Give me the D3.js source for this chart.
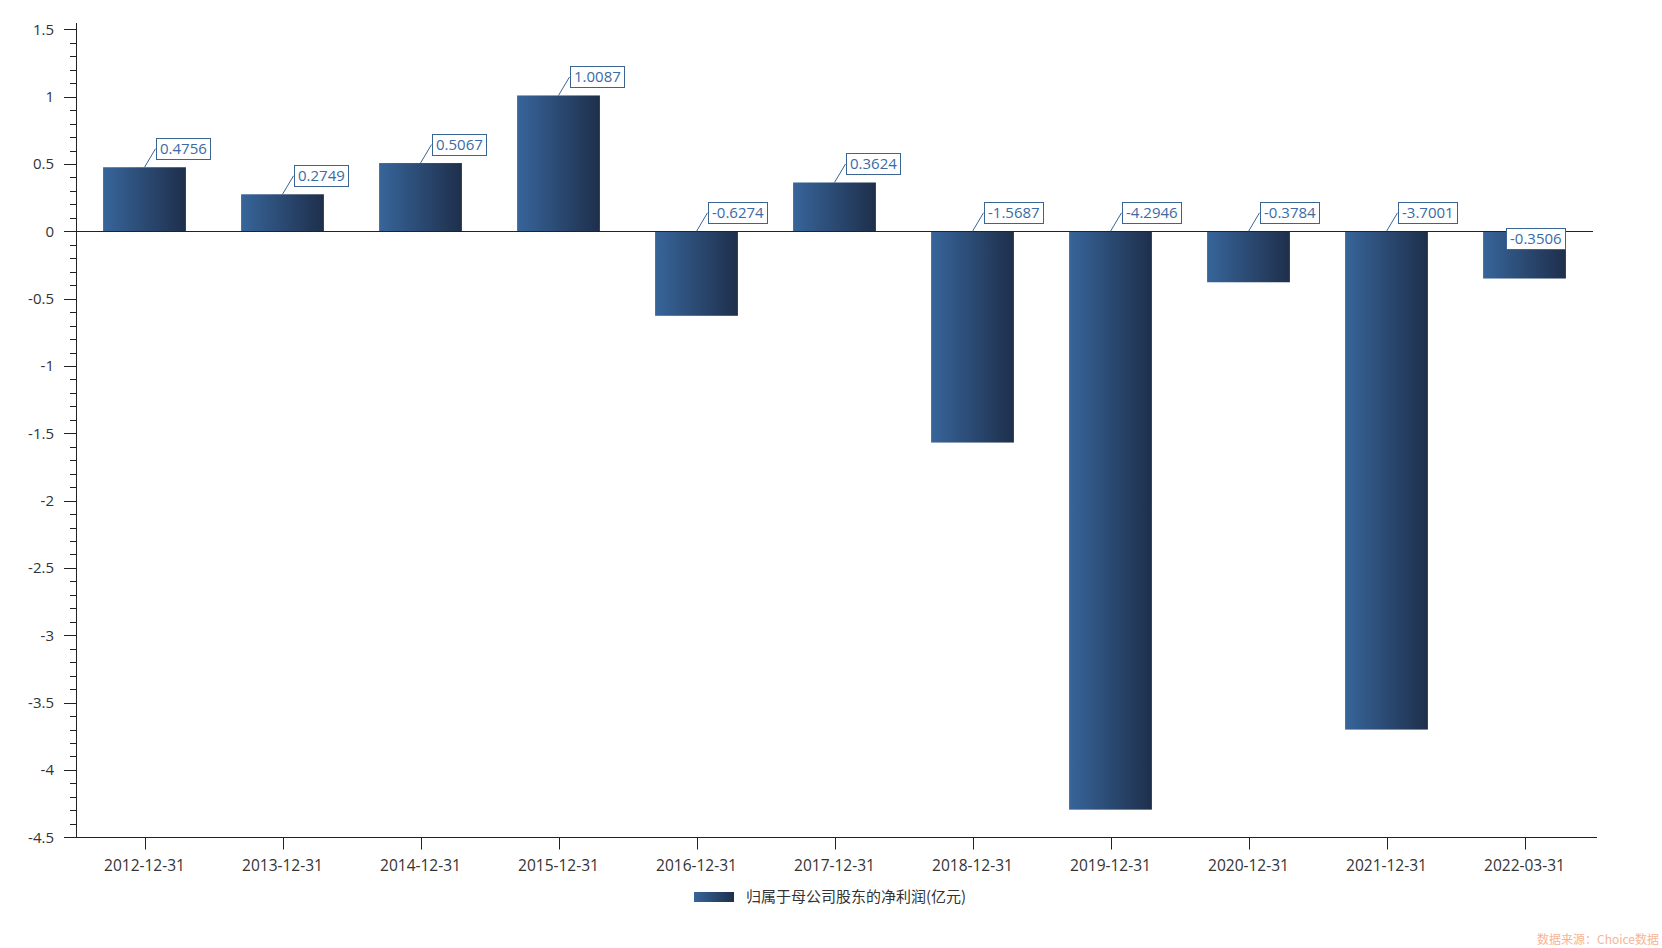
<!DOCTYPE html>
<html>
<head>
<meta charset="utf-8">
<script src="https://cdn.jsdelivr.net/npm/d3@7/dist/d3.min.js"></script>
<style>
  html, body { margin: 0; padding: 0; background: #fff; }
  svg { display: block; font-family: "Open Sans", "Noto Sans CJK SC", "Noto Sans", sans-serif; }
  .cjk { font-family: "Noto Sans CJK SC", "Open Sans", sans-serif; }
</style>
</head>
<body>
<svg id="chart" width="1662" height="948"></svg>
<script>
const categories = ["2012-12-31","2013-12-31","2014-12-31","2015-12-31","2016-12-31","2017-12-31","2018-12-31","2019-12-31","2020-12-31","2021-12-31","2022-03-31"];
const values = [0.4756, 0.2749, 0.5067, 1.0087, -0.6274, 0.3624, -1.5687, -4.2946, -0.3784, -3.7001, -0.3506];
const valueLabels = ["0.4756","0.2749","0.5067","1.0087","-0.6274","0.3624","-1.5687","-4.2946","-0.3784","-3.7001","-0.3506"];
const yTicks = [1.5, 1, 0.5, 0, -0.5, -1, -1.5, -2, -2.5, -3, -3.5, -4, -4.5];
const yTickLabels = ["1.5","1","0.5","0","-0.5","-1","-1.5","-2","-2.5","-3","-3.5","-4","-4.5"];
const seriesName = "归属于母公司股东的净利润(亿元)";
const sourceText = "数据来源：Choice数据";

const svg = d3.select("#chart");
const axisColor = "#222";
const textColor = "#333";
const labelBlue = "#3b6aa5";
const borderBlue = "#3a6494";

const x = d3.scaleBand().domain(categories).range([75.5, 1593.5]).paddingInner(0).paddingOuter(0);
const y = d3.scaleLinear().domain([-4.5, 1.5]).range([837.3, 29.3]);
const barW = x.step() * 0.6;

// gradient
const defs = svg.append("defs");
const grad = defs.append("linearGradient").attr("id", "barGrad").attr("x1", "0").attr("x2", "1").attr("y1", "0").attr("y2", "0");
grad.append("stop").attr("offset", "0%").attr("stop-color", "#37659a");
grad.append("stop").attr("offset", "100%").attr("stop-color", "#1e2f4b");

// y axis
const yMinor = d3.range(-45, 16).map(d => d / 10);
const yAxisG = svg.append("g").attr("class", "y-axis");
yAxisG.append("line").attr("x1", 76.5).attr("x2", 76.5).attr("y1", 23).attr("y2", 837.5)
  .attr("stroke", axisColor).attr("stroke-width", 1);
yAxisG.selectAll("line.minor").data(yMinor).join("line").attr("class", "minor")
  .attr("x1", 70).attr("x2", 76.5)
  .attr("y1", d => Math.round(y(d)) + 0.5).attr("y2", d => Math.round(y(d)) + 0.5)
  .attr("stroke", axisColor).attr("stroke-width", 1);
yAxisG.selectAll("line.major").data(yTicks).join("line").attr("class", "major")
  .attr("x1", 64).attr("x2", 76.5)
  .attr("y1", d => Math.round(y(d)) + 0.5).attr("y2", d => Math.round(y(d)) + 0.5)
  .attr("stroke", axisColor).attr("stroke-width", 1);
yAxisG.selectAll("text").data(yTicks).join("text")
  .attr("x", 54).attr("y", d => y(d)).attr("dy", "0.35em")
  .attr("text-anchor", "end").attr("font-size", 15).attr("fill", textColor)
  .text((d, i) => yTickLabels[i]);

// x axis (bottom)
const xAxisG = svg.append("g").attr("class", "x-axis");
xAxisG.append("line").attr("x1", 64).attr("x2", 1597).attr("y1", 837.5).attr("y2", 837.5)
  .attr("stroke", axisColor).attr("stroke-width", 1);
xAxisG.selectAll("line.tick").data(categories).join("line").attr("class", "tick")
  .attr("x1", d => Math.round(x(d) + x.bandwidth() / 2) + 0.5).attr("x2", d => Math.round(x(d) + x.bandwidth() / 2) + 0.5)
  .attr("y1", 837.5).attr("y2", 849.5).attr("stroke", axisColor).attr("stroke-width", 1);
xAxisG.selectAll("text").data(categories).join("text")
  .attr("x", d => x(d) + x.bandwidth() / 2).attr("y", 866).attr("dy", "0.35em")
  .attr("text-anchor", "middle").attr("font-size", 15.5).attr("fill", textColor)
  .text(d => d);

// bars
const data = categories.map((c, i) => ({ c, v: values[i], label: valueLabels[i], i }));
svg.append("g").selectAll("rect").data(data).join("rect")
  .attr("x", d => x(d.c) + (x.step() - barW) / 2)
  .attr("width", barW)
  .attr("y", d => Math.min(y(0), y(d.v)))
  .attr("height", d => Math.abs(y(d.v) - y(0)))
  .attr("fill", "url(#barGrad)");

// zero line
svg.append("line").attr("x1", 75.5).attr("x2", 1593).attr("y1", Math.round(y(0)) + 0.5).attr("y2", Math.round(y(0)) + 0.5)
  .attr("stroke", axisColor).attr("stroke-width", 1);

// labels
const labelsG = svg.append("g");
data.forEach((d, idx) => {
  const cx = x(d.c) + x.bandwidth() / 2;
  const anchorY = d.v >= 0 ? y(d.v) : y(0);
  const g = labelsG.append("g");
  const t = g.append("text").attr("font-size", 15).attr("fill", labelBlue).text(d.label);
  const tw = t.node().getComputedTextLength();
  const padX = 3.5, boxH = 21;
  const boxW = tw + padX * 2;
  let bx, by;
  const last = idx === data.length - 1;
  if (last) {
    const barRight = cx + barW / 2;
    bx = barRight - 1 - boxW;
    by = y(0) - 3;
  } else {
    bx = cx + 11;
    by = anchorY - 18.5 - boxH / 2;
    g.insert("line", "text").attr("x1", cx).attr("y1", anchorY).attr("x2", bx).attr("y2", by + boxH / 2)
      .attr("stroke", borderBlue).attr("stroke-width", 1);
  }
  g.insert("rect", "text").attr("x", Math.round(bx) + 0.5).attr("y", Math.round(by) + 0.5)
    .attr("width", Math.round(boxW)).attr("height", boxH)
    .attr("fill", "#fff").attr("stroke", borderBlue).attr("stroke-width", 1);
  t.attr("x", Math.round(bx) + 0.5 + padX).attr("y", Math.round(by) + 0.5 + boxH / 2).attr("dy", "0.36em");
});

// legend
const lg = svg.append("g");
lg.append("rect").attr("x", 694).attr("y", 892).attr("width", 40).attr("height", 10).attr("fill", "url(#barGrad)");
lg.append("text").attr("class", "cjk").attr("x", 746).attr("y", 897).attr("dy", "0.35em").attr("font-size", 15).attr("fill", textColor).text(seriesName);

// source
svg.append("text").attr("class", "cjk").attr("x", 1659).attr("y", 940).attr("dy", "0.35em").attr("text-anchor", "end")
  .attr("font-size", 12).attr("fill", "#f8b496").text(sourceText);
</script>
</body>
</html>
